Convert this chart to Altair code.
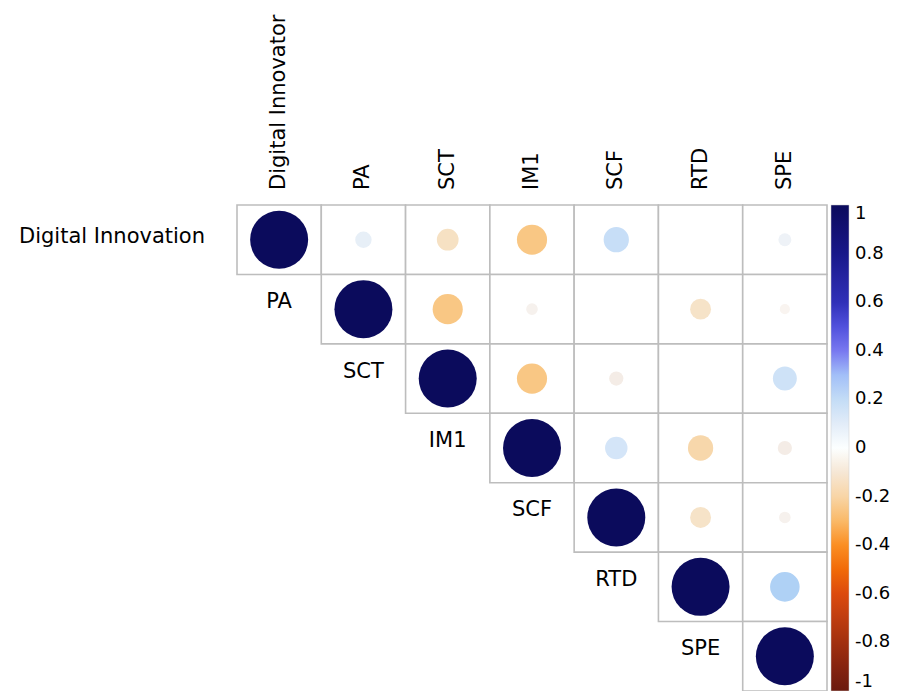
import altair as alt
import pandas as pd

col_labels = ["Digital Innovator", "PA", "SCT", "IM1", "SCF", "RTD", "SPE"]
row_labels = ["Digital Innovation", "PA", "SCT", "IM1", "SCF", "RTD", "SPE"]

# upper-triangle correlations, row by row (starting at the diagonal)
r0 = [1.00, 0.08, -0.14, -0.27, 0.19, 0.00, 0.05]
r1 = [1.00, -0.27, -0.04, 0.00, -0.13, -0.03]
r2 = [1.00, -0.27, -0.06, 0.00, 0.17]
r3 = [1.00, 0.15, -0.19, -0.06]
r4 = [1.00, -0.13, -0.04]
r5 = [1.00, 0.26]
r6 = [1.00]
rows = [r0, r1, r2, r3, r4, r5, r6]

legend_ticks = [-1, -0.8, -0.6, -0.4, -0.2, 0, 0.2, 0.4, 0.6, 0.8, 1]

color_domain = [-1, -0.8, -0.6, -0.45, -0.35, -0.27, -0.13, -0.05, 0, 0.05, 0.13, 0.26,
                0.33, 0.4, 0.5, 0.6, 0.8, 1]
color_range = ["#6b1a0f", "#a2300f", "#dc4a0c", "#fb7a05", "#fca038", "#f9c784", "#f6e3c8",
               "#f3eeea", "#ffffff", "#eef2f7", "#dbe9f8", "#afd1f5", "#a0b0f8", "#7878f0",
               "#5050dc", "#3030b8", "#18188a", "#0b0b5c"]

FONT = "DejaVu Sans"
FS = 21

recs = []
for i, vals in enumerate(rows):
    for k, v in enumerate(vals):
        j = i + k
        recs.append({"row": i, "col": j, "r": v, "absr": abs(v),
                     "x0": j - 0.5, "x1": j + 0.5, "y0": i - 0.5, "y1": i + 0.5})
df = pd.DataFrame(recs)

top_df = pd.DataFrame({"label": col_labels, "col": list(range(7))})
row_df = pd.DataFrame({"label": row_labels[1:], "col": [i - 1 for i in range(1, 7)],
                       "row": list(range(1, 7))})
first_df = pd.DataFrame({"label": [row_labels[0]], "row": [0]})

xs = alt.Scale(domain=[-0.5, 6.5], nice=False, zero=False)
ys = alt.Scale(domain=[-0.5, 6.5], nice=False, zero=False, reverse=True)

grid = alt.Chart(df).mark_rect(fill="white", stroke="#bdbdbd", strokeWidth=1.6).encode(
    x=alt.X("x0:Q", scale=xs, axis=None),
    x2="x1:Q",
    y=alt.Y("y0:Q", scale=ys, axis=None),
    y2="y1:Q",
)

circles = alt.Chart(df).mark_circle(opacity=1).encode(
    x=alt.X("col:Q", scale=xs, axis=None),
    y=alt.Y("row:Q", scale=ys, axis=None),
    size=alt.Size("absr:Q", scale=alt.Scale(domain=[0, 1], range=[0, 3364]), legend=None),
    color=alt.Color("r:Q",
                    scale=alt.Scale(domain=color_domain, range=color_range),
                    legend=alt.Legend(orient="right", offset=4, padding=0,
                                      gradientLength=486, gradientThickness=18,
                                      title=None, values=legend_ticks,
                                      labelExpr="'' + datum.value",
                                      labelFontSize=18, labelFont=FONT, labelColor="black",
                                      labelOverlap=False, labelOffset=6,
                                      gradientStrokeColor="#cccccc", gradientStrokeWidth=0.5,
                                      direction="vertical")),
)

top_text = alt.Chart(top_df).mark_text(angle=270, align="left", baseline="middle",
                                       fontSize=FS, font=FONT, color="black").encode(
    x=alt.X("col:Q", scale=xs, axis=None),
    y=alt.value(-15),
    text="label:N",
)

row_text = alt.Chart(row_df).mark_text(align="center", baseline="middle",
                                       fontSize=FS, font=FONT, color="black", dy=-7).encode(
    x=alt.X("col:Q", scale=xs, axis=None),
    y=alt.Y("row:Q", scale=ys, axis=None),
    text="label:N",
)

first_text = alt.Chart(first_df).mark_text(align="right", baseline="middle",
                                           fontSize=FS, font=FONT, color="black", dy=-3).encode(
    x=alt.value(-32),
    y=alt.Y("row:Q", scale=ys, axis=None),
    text="label:N",
)

chart = alt.layer(grid, circles, top_text, row_text, first_text).properties(
    width=590, height=486,
    autosize=alt.AutoSizeParams(type="none"),
    padding={"left": 237, "top": 205, "right": 74, "bottom": 0},
).configure_view(stroke=None)

chart.save("out.html", embed_options={"renderer": "svg", "actions": False})
